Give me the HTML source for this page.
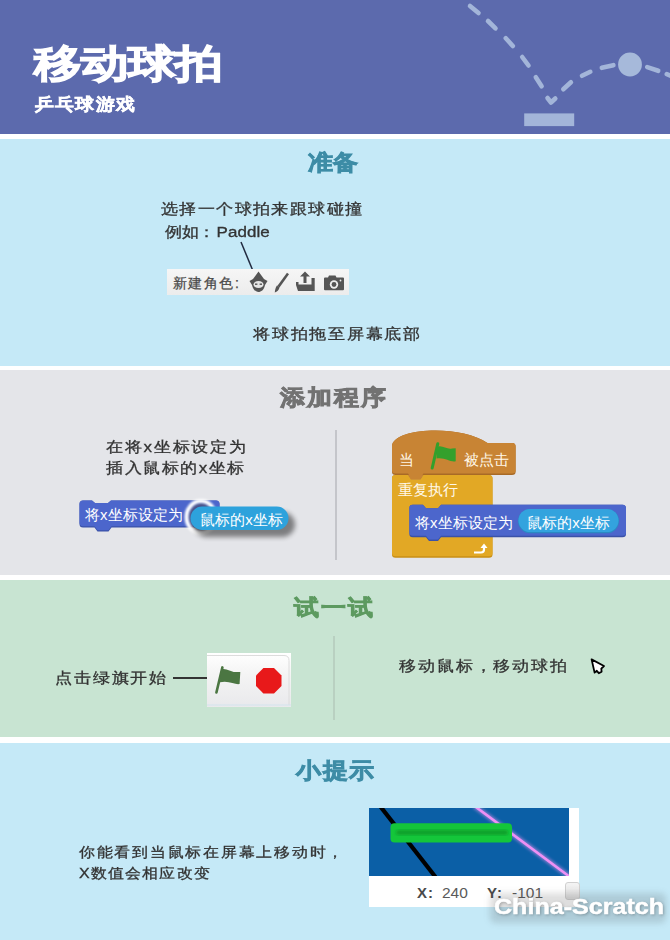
<!DOCTYPE html>
<html><head><meta charset="utf-8">
<style>
html,body{margin:0;padding:0;}
body{width:670px;height:940px;overflow:hidden;position:relative;background:#fff;font-family:"Liberation Sans",sans-serif;}
.band{position:absolute;left:0;width:670px;}
.abs{position:absolute;white-space:nowrap;}
.j{text-align:justify;text-align-last:justify;}
.t{position:absolute;white-space:nowrap;color:#333;-webkit-text-stroke:0.35px #333;font-size:17px;line-height:20px;text-align:justify;text-align-last:justify;transform:scaleY(0.88);transform-origin:50% 50%;}
.h{position:absolute;white-space:nowrap;font-weight:bold;font-size:25px;line-height:30px;text-align:justify;text-align-last:justify;-webkit-text-stroke:0.9px currentColor;transform:scaleY(0.88);transform-origin:50% 50%;}
</style></head>
<body>
<!-- header -->
<div class="band" style="top:0;height:134px;background:#5c6aad;"></div>
<div class="abs j" style="left:34px;top:38px;font-size:47px;line-height:52px;font-weight:bold;color:#fff;transform:scale(1,0.82);transform-origin:0 26px;-webkit-text-stroke:1.5px #fff;width:188px;">移动球拍</div>
<div class="abs j" style="left:35px;top:93px;font-size:19px;line-height:24px;font-weight:bold;color:#fff;transform:scale(1,0.9);transform-origin:0 12px;-webkit-text-stroke:0.5px #fff;width:99.8px;">乒乓球游戏</div>
<svg class="abs" style="left:0;top:0" width="670" height="134" viewBox="0 0 670 134">
  <g stroke="#a3b5d9" stroke-width="4.6" stroke-linecap="round" stroke-linejoin="round" fill="none">
    <line x1="470" y1="6" x2="478.5" y2="13"/>
    <line x1="488" y1="21" x2="495.5" y2="28.3"/>
    <line x1="505.8" y1="38.3" x2="512.8" y2="46"/>
    <line x1="522.2" y1="57" x2="528.5" y2="65.5"/>
    <line x1="535.8" y1="77.2" x2="541.6" y2="86.3"/>
    <polyline points="547.5,98 551,102.5 555.3,98.5"/>
    <line x1="563.3" y1="89.3" x2="570.9" y2="82.3"/>
    <line x1="582" y1="75.8" x2="590.3" y2="71.8"/>
    <line x1="601.8" y1="67.8" x2="613.4" y2="65.2"/>
    <line x1="647.2" y1="67.1" x2="658.2" y2="70.8"/>
    <line x1="666.8" y1="74.2" x2="674" y2="77"/>
  </g>
  <circle cx="630" cy="64.5" r="11.9" fill="#a6b9da"/>
  <rect x="524.2" y="113.4" width="50" height="12.7" fill="#a3b5d9"/>
</svg>
<div class="band" style="top:134px;height:5px;background:#fff;"></div>

<!-- section 1 -->
<div class="band" style="top:139px;height:227px;background:#c5e9f7;"></div>
<div class="h" style="left:308px;top:147px;color:#3d8ca6;width:50px;">准备</div>
<div class="t" style="left:161px;top:200px;width:201px;">选择一个球拍来跟球碰撞</div>
<div class="t" style="left:165px;top:222.5px;text-align:left;text-align-last:left;">例如<span style="margin-left:-1px">：</span><span style="letter-spacing:0.05px;margin-left:1.5px">Paddle</span></div>
<svg class="abs" style="left:0;top:0" width="670" height="300">
  <line x1="241" y1="242" x2="253" y2="271" stroke="#222a40" stroke-width="1.5"/>
</svg>
<div class="abs" style="left:167px;top:269px;width:182px;height:26px;background:linear-gradient(#f6f6f6,#ececec);"></div>
<div class="abs j" style="left:172.5px;top:273px;font-size:14px;line-height:20px;color:#4a4a4a;-webkit-text-stroke:0.25px #4a4a4a;width:66.4px;">新建角色:</div>
<svg class="abs" style="left:0;top:260px" width="670" height="40" viewBox="0 260 670 40">
  <g fill="#555">
    <!-- sprite head -->
    <path d="M258.5,271.5 L264,279 L267.5,281 L265,285 C264,290 261,292 258.5,292 C256,292 253,290 252,285 L249.5,281 L253,279 Z"/>
    <ellipse cx="258.5" cy="284.5" rx="5" ry="3.6" fill="#e6e6e6"/>
    <rect x="255" y="283.5" width="2.4" height="1.4" fill="#555"/>
    <rect x="259.6" y="283.5" width="2.4" height="1.4" fill="#555"/>
    <!-- brush -->
    <path d="M287,272.8 L289,274.2 L279.5,287.5 L277.3,286 Z"/>
    <path d="M277,285.5 L279.5,287.5 C279,290 277,292 274.8,292.5 C275,290 275.5,287 277,285.5 Z"/>
    <!-- upload tray -->
    <path d="M305,271.5 L310,276.5 L306.5,276.5 L306.5,283 L303.5,283 L303.5,276.5 L300,276.5 Z"/>
    <path d="M296,282 L298.5,282 L298.5,284.5 L311.5,284.5 L311.5,278 L314.7,278 L314.7,291 L298,291 L296,285 Z"/>
    <!-- camera -->
    <path d="M324,278.5 Q324,277.5 325,277.5 L328,277.5 L329,275.4 L335.5,275.4 L336.5,277.5 L343,277.5 Q344,277.5 344,278.5 L344,289.3 Q344,290.3 343,290.3 L325,290.3 Q324,290.3 324,289.3 Z"/>
    <circle cx="334" cy="284.5" r="4.2" fill="#eee"/>
    <circle cx="334" cy="284.5" r="2.4" fill="#555"/>
    <circle cx="340.5" cy="280.5" r="0.9" fill="#eee"/>
  </g>
</svg>
<div class="t" style="left:253px;top:324.5px;width:167px;">将球拍拖至屏幕底部</div>

<div class="band" style="top:366px;height:4px;background:#fff;"></div>
<!-- section 2 -->
<div class="band" style="top:370px;height:205px;background:#e4e5e9;"></div>
<div class="h" style="left:280px;top:382px;color:#727272;width:105.8px;">添加程序</div>
<div class="t" style="left:106px;top:438px;width:140px;">在将x坐标设定为</div>
<div class="t" style="left:106px;top:459px;width:138.4px;">插入鼠标的x坐标</div>
<div class="abs" style="left:335px;top:430px;width:2px;height:130px;background:#c4c5ca;"></div>
<svg class="abs" style="left:0;top:420px" width="670" height="150" viewBox="0 420 670 150">
  <defs>
    <filter id="sh" x="-20%" y="-40%" width="150%" height="200%"><feGaussianBlur stdDeviation="2.5"/></filter>
  </defs>
  <!-- left stack block -->
  <path d="M79.5,504 Q79.5,500.5 83,500.5 L92,500.5 L95,503 L108,503 L111,500.5 L216,500.5 Q219.5,500.5 219.5,504 L219.5,524 Q219.5,527.5 216,527.5 L111.5,527.5 L108.5,531.5 L97.5,531.5 L94.5,527.5 L83,527.5 Q79.5,527.5 79.5,524 Z" fill="#3a52a8"/>
  <path d="M79.5,504 Q79.5,500.5 83,500.5 L92,500.5 L95,503 L108,503 L111,500.5 L216,500.5 Q219.5,500.5 219.5,504 L219.5,522.5 Q219.5,526.2 216,526.2 L111.5,526.2 L108.5,530.2 L97.5,530.2 L94.5,526.2 L83,526.2 Q79.5,526.2 79.5,522.5 Z" fill="#4c66cc"/>
  <filter id="bl1"><feGaussianBlur stdDeviation="1.3"/></filter>
  <ellipse cx="201" cy="517" rx="13" ry="14.5" fill="#4a4660" opacity="0.6" filter="url(#bl1)"/>
  <ellipse cx="201" cy="517" rx="14.5" ry="16" fill="none" stroke="#fff" stroke-width="4" filter="url(#bl1)"/>
  <rect x="194" y="512" width="101" height="25" rx="12.5" fill="#000" opacity="0.45" filter="url(#sh)"/>
  <rect x="190.5" y="506.6" width="98" height="23.4" rx="11.7" fill="#2da2dc"/>
  <!-- hat block -->
  <path d="M392,446 C393,428 460,424 487.5,443 L512.5,443 Q515.6,443 515.6,446.5 L515.6,472 Q515.6,475 512,475 L423.4,475 L420.5,479.5 L411,479.5 L408,475 L395.5,475 Q392,475 392,472 Z" fill="#a86a26"/>
  <path d="M392,446 C393,428 460,424 487.5,443 L512.5,443 Q515.6,443 515.6,446.5 L515.6,470.5 Q515.6,473.5 512,473.5 L423.4,473.5 L420.5,478 L411,478 L408,473.5 L395.5,473.5 Q392,473.5 392,470.5 Z" fill="#c88434"/>
  <!-- C block -->
  <path d="M392,478 Q392,475 395.5,475 L408,475 L411,479.5 L420.5,479.5 L423.4,475 L489,475 Q492.5,475 492.5,478.5 L492.5,554.5 Q492.5,557.7 489,557.7 L395.5,557.7 Q392,557.7 392,554.5 Z" fill="#c98f14"/>
  <path d="M392,478 Q392,475 395.5,475 L408,475 L411,479.5 L420.5,479.5 L423.4,475 L489,475 Q492.5,475 492.5,478.5 L492.5,553 Q492.5,556.2 489,556.2 L395.5,556.2 Q392,556.2 392,553 Z" fill="#e2a825"/>
  <path d="M408,475 L411,479.5 L420.5,479.5 L423.4,475 Z" fill="#c88434"/>
  <!-- inner blue block -->
  <path d="M409.4,508 Q409.4,504.7 412.7,504.7 L423,504.7 L426,508.2 L438,508.2 L441,504.7 L622.5,504.7 Q626,504.7 626,508.2 L626,534 Q626,537.3 622.5,537.3 L441,537.3 L438,541 L429,541 L426,537.3 L412.7,537.3 Q409.4,537.3 409.4,534 Z" fill="#3a52a8"/>
  <path d="M409.4,508 Q409.4,504.7 412.7,504.7 L423,504.7 L426,508.2 L438,508.2 L441,504.7 L622.5,504.7 Q626,504.7 626,508.2 L626,532.5 Q626,535.8 622.5,535.8 L441,535.8 L438,539.5 L429,539.5 L426,535.8 L412.7,535.8 Q409.4,535.8 409.4,532.5 Z" fill="#4c66cc"/>
  <rect x="518" y="509" width="101" height="24.2" rx="12.1" fill="#2a8ac4"/>
  <rect x="518.5" y="509" width="100" height="23" rx="11.5" fill="#33a3de"/>
  <!-- flag -->
  <path d="M432.2,468 L437.8,443.7" stroke="#33a02c" stroke-width="3" stroke-linecap="round"/>
  <path d="M437,447 C442,444.5 447,450 452,448.5 L455.7,448.2 L455.7,461.3 C450,462.5 445,457 436.5,458.5 Z" fill="#33a02c"/>
  <!-- loop arrow -->
  <path d="M474,552.5 L481,552.5 Q484,552.5 484,549.5 L484,547.5" stroke="#fff" stroke-width="2.2" fill="none"/>
  <path d="M480.5,548 L484,543.5 L487.5,548 Z" fill="#fff"/>
</svg>
<div class="abs j" style="left:85px;top:506px;font-size:15px;line-height:18px;color:#fff;width:98px;">将x坐标设定为</div>
<div class="abs j" style="left:200px;top:511px;font-size:15px;line-height:18px;color:#fff;width:83px;">鼠标的x坐标</div>
<div class="abs" style="left:399px;top:451px;font-size:15px;line-height:18px;color:#fff8e8;">当</div>
<div class="abs j" style="left:464px;top:451px;font-size:15px;line-height:18px;color:#fff8e8;width:45px;">被点击</div>
<div class="abs j" style="left:398px;top:481px;font-size:15px;line-height:18px;color:#fff8e8;width:60px;">重复执行</div>
<div class="abs j" style="left:415px;top:514px;font-size:15px;line-height:18px;color:#fff;width:98px;">将x坐标设定为</div>
<div class="abs j" style="left:527px;top:514px;font-size:15px;line-height:18px;color:#fff;width:83px;">鼠标的x坐标</div>

<div class="band" style="top:575px;height:5px;background:#fff;"></div>
<!-- section 3 -->
<div class="band" style="top:580px;height:157px;background:#c8e4d2;"></div>
<div class="h" style="left:294px;top:592px;color:#5d9a60;width:78.5px;">试一试</div>
<div class="t" style="left:55px;top:668.5px;width:111.2px;">点击绿旗开始</div>
<div class="abs" style="left:173px;top:677px;width:34px;height:1.5px;background:#333;"></div>
<div class="abs" style="left:207px;top:652.5px;width:84px;height:54px;background:linear-gradient(#ffffff,#f4f4f4 40%,#e9e9ec);"></div>
<svg class="abs" style="left:200px;top:645px" width="100" height="70" viewBox="200 645 100 70">
  <path d="M207,655.5 L284,655.5 Q289,655.5 289,660.5 L289,705" stroke="#dcdcdc" stroke-width="1" fill="none"/>
  <line x1="207" y1="705" x2="291" y2="705" stroke="#d4e4ee" stroke-width="1.2"/>
  <path d="M216.4,692.5 L222.4,667.4" stroke="#4b7642" stroke-width="2.6" stroke-linecap="round"/>
  <path d="M221.2,669.5 C226,667.5 232,673 236,672 L240.3,671.9 L239.6,684 C235,685 229,680 219.8,682.3 Z" fill="#4b7642"/>
  <polygon points="263.4,668 274,668 281.5,675.5 281.5,686 274,693.5 263.4,693.5 256,686 256,675.5" fill="#e8191a"/>
</svg>
<div class="abs" style="left:333px;top:636px;width:2px;height:84px;background:#b9d0c1;"></div>
<div class="t" style="left:399px;top:657px;width:168.1px;">移动鼠标，移动球拍</div>
<svg class="abs" style="left:580px;top:650px" width="40" height="35" viewBox="580 650 40 35">
  <path d="M591.6,659.4 L604,666 L601.3,668.7 L601.6,671.6 L598.8,673.2 L596.8,670.8 L594.6,672.6 Z" fill="#fff" stroke="#000" stroke-width="1.8" stroke-linejoin="round"/>
</svg>

<div class="band" style="top:737px;height:6px;background:#fff;"></div>
<!-- section 4 -->
<div class="band" style="top:743px;height:197px;background:#c5e9f7;"></div>
<div class="h" style="left:296px;top:755px;color:#3d8ca6;width:78.3px;">小提示</div>
<div class="t" style="left:79px;top:843px;font-size:16px;width:264.3px;">你能看到当鼠标在屏幕上移动时，</div>
<div class="t" style="left:79px;top:864px;font-size:16px;width:130.8px;">X数值会相应改变</div>
<div class="abs" style="left:369px;top:808px;width:210px;height:98.6px;background:#fff;"></div>
<svg class="abs" style="left:369px;top:808px" width="200" height="68" viewBox="369 808 200 68">
  <defs><filter id="pg" x="-20%" y="-20%" width="140%" height="140%"><feGaussianBlur stdDeviation="1.5"/></filter></defs>
  <rect x="369" y="808" width="200" height="68" fill="#0b5fa6"/>
  <line x1="380" y1="806" x2="435.5" y2="877" stroke="#000" stroke-width="4.2"/>
  <line x1="474.5" y1="806" x2="570" y2="877" stroke="#d090e8" stroke-width="5" opacity="0.6" filter="url(#pg)"/>
  <line x1="474.5" y1="806" x2="570" y2="877" stroke="#ee90f4" stroke-width="2.6"/>
  <rect x="390.5" y="823.3" width="121.5" height="19.2" rx="4" fill="#14c63a"/>
  <rect x="396" y="830" width="112" height="5" rx="2.5" fill="#0fa02c" filter="url(#pg)"/>
</svg>
<div class="abs" style="left:417px;top:884px;font-size:15px;line-height:18px;color:#4a4a4a;font-weight:bold;letter-spacing:1px;">X:</div>
<div class="abs" style="left:442px;top:883.5px;font-size:15.5px;line-height:18px;color:#5a5a5a;">240</div>
<div class="abs" style="left:487px;top:884px;font-size:15px;line-height:18px;color:#4a4a4a;font-weight:bold;letter-spacing:1px;">Y:</div>
<div class="abs" style="left:512px;top:883.5px;font-size:15.5px;line-height:18px;color:#5a5a5a;">-101</div>
<div class="abs" style="left:565px;top:882px;width:15px;height:18px;border-radius:3px;background:linear-gradient(#f4f4f4,#e0e0e0);border:1px solid #d0d0d0;box-sizing:border-box;"></div>
<div class="abs" style="left:490px;top:893px;width:176px;height:30px;background:rgba(60,60,60,0.17);filter:blur(3px);border-radius:6px;"></div>
<div class="abs" style="left:494px;top:894.5px;font-size:22.5px;line-height:24px;font-weight:bold;color:#fff;transform:scaleX(1.115);transform-origin:0 0;-webkit-text-stroke:0.5px #fff;text-shadow:1px 1px 3px rgba(0,0,0,0.3);">China-Scratch</div>
</body></html>
